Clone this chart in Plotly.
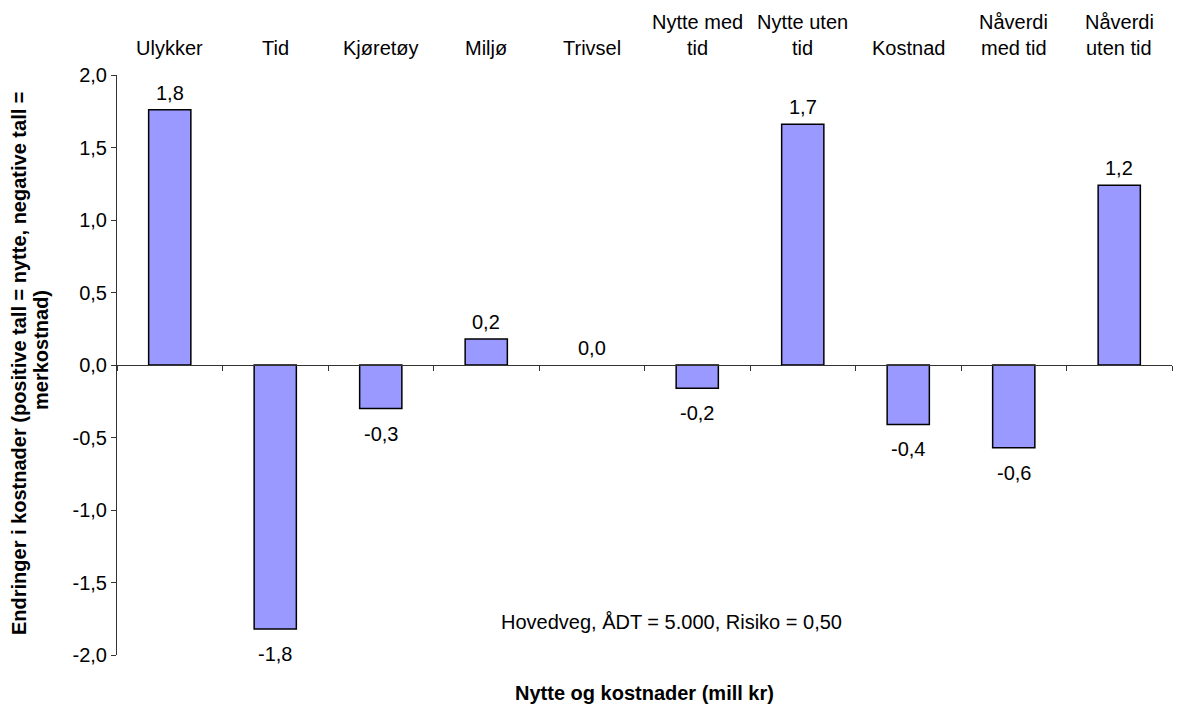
import plotly.graph_objects as go

# Nytte- og kostnadskomponenter (mill kr)
categories = ["Ulykker", "Tid", "Kjøretøy", "Miljø", "Trivsel",
              "Nytte med<br>tid", "Nytte uten<br>tid", "Kostnad",
              "Nåverdi<br>med tid", "Nåverdi<br>uten tid"]
values = [1.76, -1.82, -0.30, 0.18, 0.0, -0.16, 1.66, -0.41, -0.57, 1.24]

y_ticks = [-2.0, -1.5, -1.0, -0.5, 0.0, 0.5, 1.0, 1.5, 2.0]


def fmt(v):
    return f"{v:.1f}".replace(".", ",")


FONT = "Arial, Liberation Sans, sans-serif"
TXT = dict(family=FONT, size=20, color="#000000")

fig = go.Figure()
fig.add_trace(go.Bar(
    x=categories, y=values, width=0.4,
    marker=dict(color="#9999FF",
                line=dict(color="#000000",
                          width=[1.5 if v != 0 else 0 for v in values])),
    hoverinfo="skip",
))

annotations = []
# verdietiketter over/under søylene
for cat, v in zip(categories, values):
    annotations.append(dict(
        x=cat, y=v, xref="x", yref="y", text=fmt(v), showarrow=False,
        yanchor="middle", yshift=17 if v >= 0 else -25, font=TXT,
    ))

# kategorinavn over plottet, én eller to linjer
for cat in categories:
    lines = cat.split("<br>")
    shifts = [27] if len(lines) == 1 else [53, 27]
    for line, sh in zip(lines, shifts):
        annotations.append(dict(
            x=cat, y=1, xref="x", yref="paper", text=line, showarrow=False,
            yanchor="middle", yshift=sh, font=TXT,
        ))

annotations += [
    dict(x=0.5256, y=0.057, xref="paper", yref="paper",
         text="Hovedveg, ÅDT = 5.000, Risiko = 0,50", showarrow=False,
         xanchor="center", yanchor="middle", font=TXT),
    dict(x=0.5, y=0, xref="paper", yref="paper",
         text="<b>Nytte og kostnader (mill kr)</b>", showarrow=False,
         yanchor="middle", yshift=-38, font=TXT),
    # aksetittel for y, to roterte linjer
    dict(x=19, y=0.5, xref="paper", yref="paper", textangle=-90,
         text="<b>Endringer i kostnader (positive tall = nytte, negative tall =</b>",
         showarrow=False, xanchor="center", yanchor="middle", font=TXT),
    dict(x=41, y=0.5, xref="paper", yref="paper", textangle=-90,
         text="<b>merkostnad)</b>",
         showarrow=False, xanchor="center", yanchor="middle", font=TXT),
]

# y-tittelens linjer plasseres i piksler fra venstre kant
L, R, T, B = 117, 5, 75, 52
plot_w = 1177 - L - R
plot_h = 707 - T - B
for a, yc in zip(annotations[-2:], [364, 350]):
    a["x"] = (a["x"] - L) / plot_w
    a["y"] = (707 - B - yc) / plot_h

fig.update_layout(
    width=1177, height=707,
    margin=dict(l=L, r=R, t=T, b=B),
    paper_bgcolor="#FFFFFF", plot_bgcolor="#FFFFFF",
    showlegend=False,
    annotations=annotations,
    xaxis=dict(
        type="category",
        showticklabels=False,
        tickson="boundaries", ticks="outside", ticklen=5,
        tickcolor="#333333", showline=True, linecolor="#333333", linewidth=1,
        showgrid=False, zeroline=False, anchor="free", position=0.5,
    ),
    yaxis=dict(
        range=[-2.0, 2.0], domain=[0, 1],
        tickmode="array", tickvals=y_ticks, ticktext=[fmt(t) for t in y_ticks],
        ticks="outside", ticklen=5, tickcolor="#333333",
        showline=True, linecolor="#333333", linewidth=1,
        showgrid=False, zeroline=False,
        tickfont=TXT,
    ),
)

fig.write_html("out.html")
